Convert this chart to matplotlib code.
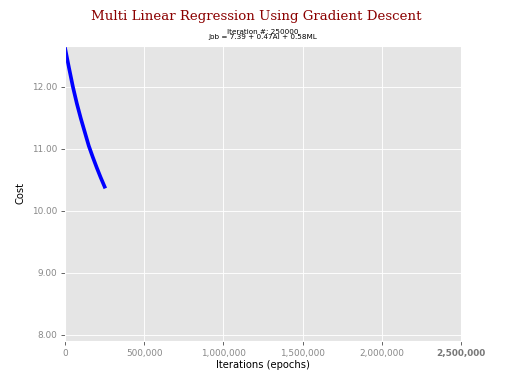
import numpy as np
import matplotlib
matplotlib.use('Agg')
import matplotlib.pyplot as plt
from matplotlib.ticker import FuncFormatter

plt.style.use('ggplot')

# cost history
iters = [0, 25000, 50000, 75000, 100000, 125000, 150000, 175000, 200000, 225000, 250000]
cost = [12.63, 12.31, 12.00, 11.73, 11.49, 11.27, 11.05, 10.87, 10.70, 10.54, 10.39]
xticks = [0, 500000, 1000000, 1500000, 2000000, 2500000]
yticks = [8.0, 9.0, 10.0, 11.0, 12.0]

fig = plt.figure(figsize=(6.4, 4.8), dpi=80)
ax = fig.add_axes([65/512, 1-341/384, 396/512, 295/384])

fig.suptitle('Multi Linear Regression Using Gradient Descent', fontsize=12,
             family='DejaVu Serif', color='darkred', y=0.975)
ax.set_title('Iteration #: 250000\nJob = 7.39 + 0.47AI + 0.58ML', fontsize=6.5, pad=6,
             linespacing=0.95)

ax.plot(iters, cost, 'b-', lw=3.3)

ax.set_xlim(0, 2500000)
ax.set_ylim(7.9, 12.66)
ax.set_xticks(xticks)
ax.set_yticks(yticks)
ax.xaxis.set_major_formatter(FuncFormatter(lambda v, p: '{:,.0f}'.format(v)))
ax.yaxis.set_major_formatter(FuncFormatter(lambda v, p: '%.2f' % v))
ax.tick_params(labelsize=8, colors='#555555', labelcolor='#888888')
lbl = ax.get_xticklabels()[-1]
lbl.set_fontweight('bold')
lbl.set_color('#777777')

ax.set_xlabel('Iterations (epochs)', fontsize=9, color='black', labelpad=2)
ax.set_ylabel('Cost', fontsize=9, color='black', labelpad=6)

fig.savefig('out.png', dpi=80)
